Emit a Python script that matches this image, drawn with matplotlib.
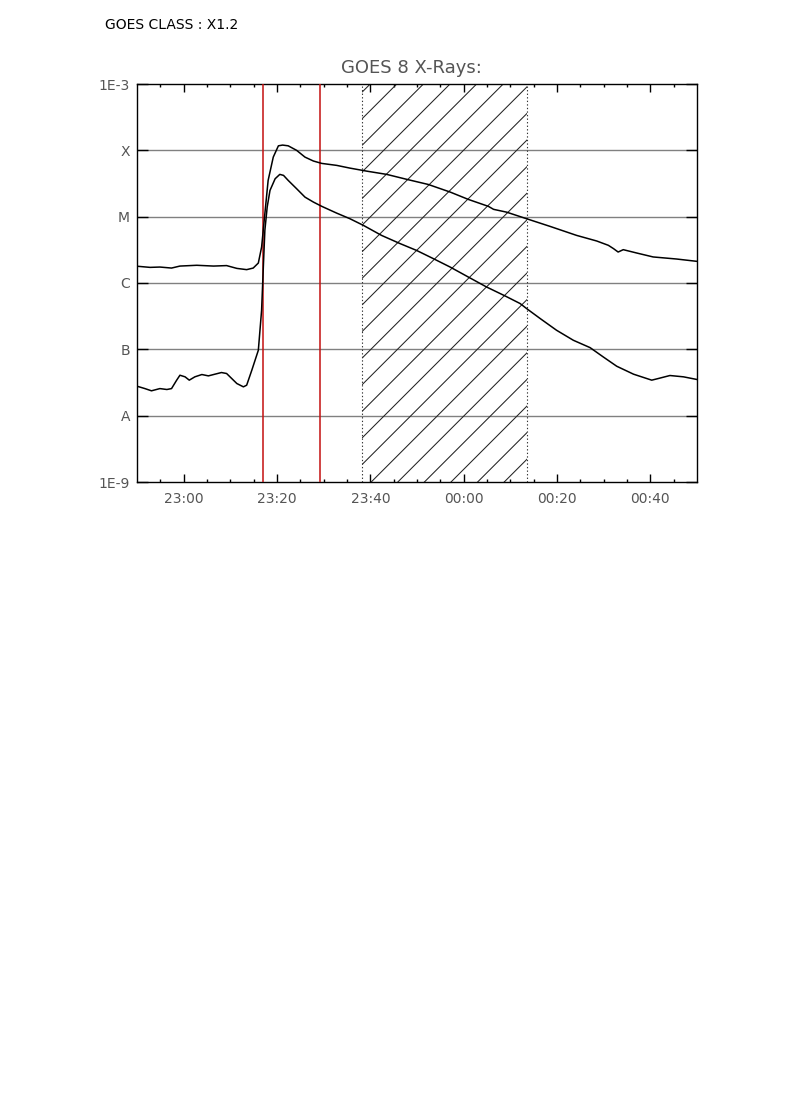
import numpy as np
import matplotlib
matplotlib.use("Agg")
import matplotlib.pyplot as plt
from matplotlib.patches import Rectangle
from matplotlib.ticker import FixedLocator, FuncFormatter, NullLocator

# time axis: minutes after 22:50 UT
START_MIN = 22 * 60 + 50
T_END = 120

# GOES 8 long channel (1-8 A), W/m^2
t_long = [0.0, 2.8, 4.9, 7.4, 9.2, 12.8, 16.4, 19.2, 21.4, 23.5, 24.9, 26.0,
          26.7, 27.4, 28.1, 29.2, 30.3, 31.2, 32.4, 34.2, 36.0, 37.8, 39.6,
          42.8, 45.6, 49.2, 53.5, 58.1, 62.4, 67.1, 71.0, 75.3, 76.4, 79.2,
          83.5, 88.5, 94.2, 98.5, 101.0, 102.1, 103.1, 104.2, 107.1, 110.6,
          115.6, 120.0]
flux_long = [1.79e-6, 1.72e-6, 1.74e-6, 1.68e-6, 1.80e-6, 1.85e-6, 1.80e-6,
             1.83e-6, 1.66e-6, 1.59e-6, 1.68e-6, 2.00e-6, 3.48e-6, 1.11e-5,
             3.52e-5, 7.91e-5, 1.17e-4, 1.20e-4, 1.17e-4, 1.00e-4, 7.90e-5,
             6.90e-5, 6.35e-5, 5.93e-5, 5.40e-5, 4.86e-5, 4.34e-5, 3.61e-5,
             3.06e-5, 2.35e-5, 1.82e-5, 1.43e-5, 1.29e-5, 1.17e-5, 9.30e-6,
             7.14e-6, 5.22e-6, 4.30e-6, 3.70e-6, 3.30e-6, 2.93e-6, 3.18e-6,
             2.83e-6, 2.47e-6, 2.30e-6, 2.12e-6]

# GOES 8 short channel (0.5-4 A), W/m^2
t_short = [0.0, 1.7, 3.1, 4.9, 6.4, 7.4, 8.5, 9.2, 10.3, 11.2, 12.4, 13.9,
           15.3, 16.7, 18.1, 19.2, 20.3, 21.4, 22.8, 23.5, 24.6, 26.0, 26.7,
           27.1, 27.4, 27.9, 28.5, 29.6, 30.6, 31.4, 32.4, 34.2, 36.0, 37.8,
           39.6, 42.8, 45.6, 48.5, 52.4, 56.4, 59.9, 63.5, 67.1, 71.0, 74.9,
           78.9, 82.1, 83.5, 86.4, 89.9, 93.5, 97.1, 99.9, 102.8, 106.4,
           110.3, 111.7, 114.2, 117.1, 120.0]
flux_short = [2.78e-8, 2.56e-8, 2.37e-8, 2.56e-8, 2.48e-8, 2.56e-8, 3.43e-8,
              4.07e-8, 3.85e-8, 3.43e-8, 3.85e-8, 4.17e-8, 3.98e-8, 4.22e-8,
              4.47e-8, 4.32e-8, 3.63e-8, 3.05e-8, 2.72e-8, 2.88e-8, 4.84e-8,
              9.68e-8, 3.88e-7, 1.96e-6, 6.22e-6, 1.40e-5, 2.49e-5, 3.73e-5,
              4.34e-5, 4.19e-5, 3.52e-5, 2.64e-5, 1.97e-5, 1.66e-5, 1.43e-5,
              1.13e-5, 9.33e-6, 7.40e-6, 5.22e-6, 3.92e-6, 3.10e-6, 2.33e-6,
              1.74e-6, 1.23e-6, 8.71e-7, 6.37e-7, 4.90e-7, 4.11e-7, 2.91e-7,
              1.94e-7, 1.37e-7, 1.06e-7, 7.69e-8, 5.56e-8, 4.22e-8, 3.43e-8,
              3.63e-8, 4.03e-8, 3.85e-8, 3.51e-8]

flare_marks = [27.1, 39.3]          # red markers
window = [48.3, 83.6]               # hatched interval

class_ticks = [1e-9, 1e-8, 1e-7, 1e-6, 1e-5, 1e-4, 1e-3]
class_labels = ["1E-9", "A", "B", "C", "M", "X", "1E-3"]

W_PX, H_PX = 790, 1118
fig = plt.figure(figsize=(W_PX / 100, H_PX / 100), dpi=100)
fig.patch.set_facecolor("white")

ax_l, ax_t, ax_w, ax_h = 137, 84, 560, 398
ax = fig.add_axes([ax_l / W_PX, 1 - (ax_t + ax_h) / H_PX, ax_w / W_PX, ax_h / H_PX])

ax.set_yscale("log")
ax.set_ylim(1e-9, 1e-3)
ax.set_xlim(0, T_END)

# class grid
for lev in class_ticks[1:-1]:
    ax.axhline(lev, color="#808080", lw=1.0, zorder=1)

# hatched window
u0 = window[0] / T_END
u1 = window[1] / T_END
slope = ax_w / ax_h
step = 26.6 / ax_h
clip = Rectangle((u0, 0), u1 - u0, 1, transform=ax.transAxes, fill=False, lw=0)
ax.add_patch(clip)
for k in range(-40, 20):
    va = 0.8467 + k * step
    vb = va + (u1 - u0) * slope
    ln, = ax.plot([u0, u1], [va, vb], transform=ax.transAxes,
                  color="#222222", lw=0.75, zorder=2)
    ln.set_clip_path(clip)
for edge in window:
    ax.axvline(edge, color="#333333", lw=0.8, ls=(0, (1.2, 2.0)), zorder=2)

for tm in flare_marks:
    ax.axvline(tm, color="#c41010", lw=1.1, zorder=3)

ax.plot(t_long, flux_long, color="black", lw=1.1, zorder=4)
ax.plot(t_short, flux_short, color="black", lw=1.1, zorder=4)

# axes styling
for sp in ax.spines.values():
    sp.set_linewidth(1.0)
    sp.set_color("black")

ax.yaxis.set_major_locator(FixedLocator(class_ticks))
ax.yaxis.set_minor_locator(NullLocator())
ax.set_yticklabels(class_labels)
ax.tick_params(axis="y", which="major", direction="in", length=8, width=1.0,
               left=True, right=True, labelsize=10, labelcolor="#555555", pad=5)

ax.xaxis.set_major_locator(FixedLocator(np.arange(10, T_END, 20)))
ax.xaxis.set_minor_locator(FixedLocator(np.arange(5, T_END, 5)))


def clock(m, pos=None):
    tot = int(round(START_MIN + m)) % (24 * 60)
    return f"{tot // 60:02d}:{tot % 60:02d}"


ax.xaxis.set_major_formatter(FuncFormatter(clock))
ax.tick_params(axis="x", which="major", direction="in", length=5.5, width=1.0,
               top=True, bottom=True, labelsize=10, labelcolor="#555555", pad=7)
ax.tick_params(axis="x", which="minor", direction="in", length=2.5, width=1.0,
               top=True, bottom=True)

fig.text(411.5 / W_PX, 1 - 68 / H_PX, "GOES 8 X-Rays:", ha="center", va="center",
         fontsize=13, color="#555555")
fig.text(105 / W_PX, 1 - 24.7 / H_PX, "GOES CLASS : X1.2", ha="left", va="center",
         fontsize=10, color="black")

fig.savefig("out.png", dpi=100, facecolor="white")
